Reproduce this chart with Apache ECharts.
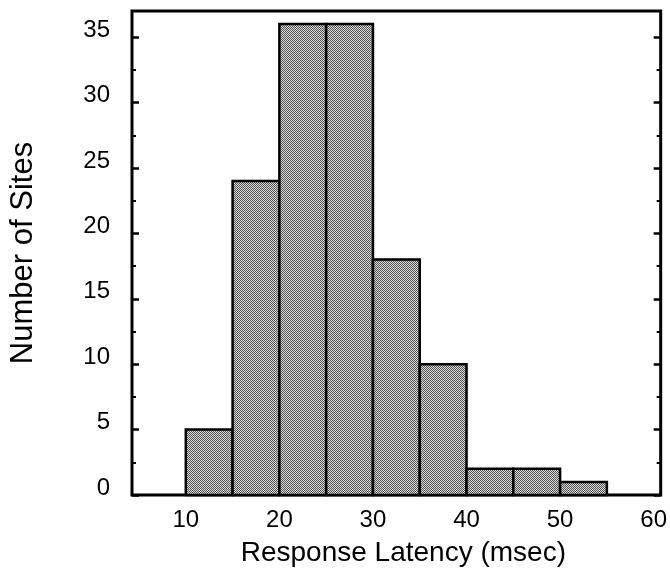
<!DOCTYPE html>
<html>
<head>
<meta charset="utf-8">
<script src="https://cdn.jsdelivr.net/npm/echarts@6/dist/echarts.min.js"></script>
<style>html,body{margin:0;padding:0;background:#fff}#c{width:670px;height:584px}</style>
</head>
<body>
<div id="c"></div>
<script>
// Histogram bins (msec) and counts
var binStarts = [10, 15, 20, 25, 30, 35, 40, 45, 50];
var binWidth = 5;
var counts = [5, 24, 36, 36, 18, 10, 2, 2, 1];
var xTickLabels = [10, 20, 30, 40, 50, 60];
var yTickLabels = [0, 5, 10, 15, 20, 25, 30, 35];
var yMinorTicks = [2.5, 7.5, 12.5, 17.5, 22.5, 27.5, 32.5];

var pc = document.createElement('canvas');
pc.width = 4; pc.height = 4;
var pctx = pc.getContext('2d');
for (var i = 0; i < 4; i++) for (var j = 0; j < 4; j++) {
  pctx.fillStyle = ((i + j) % 2 === 0) ? '#555555' : '#d8d8d8';
  pctx.fillRect(i, j, 1, 1);
}
var patternFill = { image: pc, repeat: 'repeat' };

var data = binStarts.map(function (s, k) { return [s, s + binWidth, counts[k]]; });

var font = '"Liberation Sans", Arial, Helvetica, sans-serif';
var chart = echarts.init(document.getElementById('c'), null, { renderer: 'canvas' });

function yAx(pos, vals, len, width, showLabel, name) {
  return {
    type: 'value', position: pos, min: 0, max: 37,
    name: name || '', nameLocation: 'middle', nameGap: 93,
    nameTextStyle: { fontFamily: font, fontSize: 31, color: '#000' },
    axisLine: { show: false },
    splitLine: { show: false },
    axisTick: { show: true, inside: true, length: len, customValues: vals, lineStyle: { color: '#000', width: width } },
    axisLabel: { show: showLabel, customValues: vals, margin: 22, fontFamily: font, fontSize: 24, color: '#000', verticalAlign: 'bottom', lineHeight: 14 }
  };
}

chart.setOption({
  animation: false,
  grid: { left: 131, right: 8, top: 11, bottom: 89, show: true, borderColor: '#000', borderWidth: 3, backgroundColor: 'transparent' },
  xAxis: {
    type: 'value', min: 4.25, max: 60.75,
    name: 'Response Latency (msec)', nameLocation: 'middle', nameGap: 44,
    nameTextStyle: { fontFamily: font, fontSize: 28, color: '#000', padding: [0, 0, 0, 14] },
    axisLine: { show: false }, splitLine: { show: false },
    axisTick: { show: false },
    axisLabel: { customValues: xTickLabels, margin: 13, fontFamily: font, fontSize: 24, color: '#000' }
  },
  yAxis: [
    yAx('left', yTickLabels, 7, 2.5, true, 'Number of Sites'),
    yAx('left', yMinorTicks, 4, 2, false),
    yAx('right', yTickLabels, 7, 2.5, false),
    yAx('right', yMinorTicks, 4, 2, false)
  ],
  series: [{
    type: 'custom',
    data: data,
    encode: { x: [0, 1], y: 2 },
    renderItem: function (params, api) {
      var p0 = api.coord([api.value(0), api.value(2)]);
      var p1 = api.coord([api.value(1), 0]);
      return {
        type: 'rect',
        shape: { x: p0[0], y: p0[1], width: p1[0] - p0[0], height: p1[1] - p0[1] },
        style: { fill: patternFill, stroke: '#000', lineWidth: 2.5 }
      };
    }
  }]
});
</script>
</body>
</html>
